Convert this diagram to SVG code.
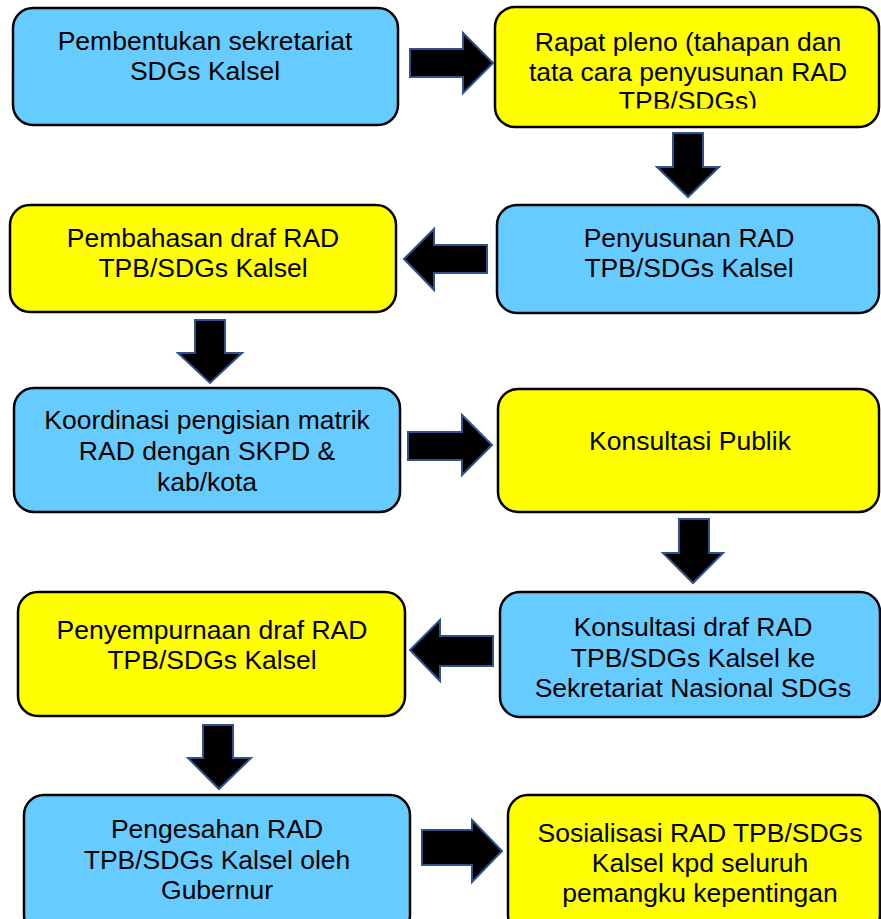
<svg xmlns="http://www.w3.org/2000/svg" width="881" height="919" viewBox="0 0 881 919">
<style>
.box{stroke:#000;stroke-width:2.5}
.blue{fill:#66CCFF}
.yellow{fill:#FFFF00}
text{font-family:"Liberation Sans",Arial,sans-serif;font-size:26.5px;fill:#000;text-anchor:middle}
.arr{fill:#000;stroke:#2F528F;stroke-width:2;stroke-linejoin:miter}
</style>
<defs>
<clipPath id="c2"><rect x="495" y="0" width="386" height="108.5"/></clipPath>
</defs>
<rect width="881" height="919" fill="#fff"/>
<g id="connectors">
<polygon class="arr" points="410,49 463,49 463,33 493,63 463,93 463,77 410,77"/>
<polygon class="arr" points="673,133 703,133 703,167 719,167 688,197 657,167 673,167"/>
<polygon class="arr" points="487,245 434,245 434,229 404,259 434,290 434,273 487,273"/>
<polygon class="arr" points="195,320 225,320 225,353 242,353 210,383 178,353 195,353"/>
<polygon class="arr" points="408,432 462,432 462,415 492,445 462,475 462,460 408,460"/>
<polygon class="arr" points="679,519 709,519 709,553 723,553 693,583 663,553 679,553"/>
<polygon class="arr" points="493,636 440,636 440,620 410,650 440,681 440,666 493,666"/>
<polygon class="arr" points="203,725 233,725 233,758 251,758 219,789 188,758 203,758"/>
<polygon class="arr" points="422,830 472,830 472,820 502,851 472,882 472,865 422,865"/>
</g>
<g id="n1">
<rect class="box blue" x="13" y="8" width="385" height="117" rx="20"/>
<text x="205" y="50">Pembentukan sekretariat</text>
<text x="205" y="80">SDGs Kalsel</text>
</g>
<g id="n2">
<rect class="box yellow" x="495" y="7" width="384" height="120" rx="20"/>
<g clip-path="url(#c2)">
<text x="688" y="51">Rapat pleno (tahapan dan</text>
<text x="688" y="81">tata cara penyusunan RAD</text>
<text x="688" y="110">TPB/SDGs)</text>
</g>
</g>
<g id="n3">
<rect class="box yellow" x="10" y="205" width="386" height="107" rx="20"/>
<text x="203" y="247">Pembahasan draf RAD</text>
<text x="203" y="277">TPB/SDGs Kalsel</text>
</g>
<g id="n4">
<rect class="box blue" x="497" y="205" width="382" height="108" rx="20"/>
<text x="689" y="247">Penyusunan RAD</text>
<text x="689" y="277">TPB/SDGs Kalsel</text>
</g>
<g id="n5">
<rect class="box blue" x="14" y="388" width="386" height="124" rx="20"/>
<text x="207" y="429">Koordinasi pengisian matrik</text>
<text x="207" y="460">RAD dengan SKPD &amp;</text>
<text x="207" y="491">kab/kota</text>
</g>
<g id="n6">
<rect class="box yellow" x="498" y="389" width="381" height="123" rx="20"/>
<text x="690" y="450">Konsultasi Publik</text>
</g>
<g id="n7">
<rect class="box yellow" x="18" y="592" width="387" height="124" rx="20"/>
<text x="212" y="639">Penyempurnaan draf RAD</text>
<text x="212" y="669">TPB/SDGs Kalsel</text>
</g>
<g id="n8">
<rect class="box blue" x="500" y="592" width="380" height="125" rx="20"/>
<text x="693" y="636">Konsultasi draf RAD</text>
<text x="693" y="667">TPB/SDGs Kalsel ke</text>
<text x="693" y="697">Sekretariat Nasional SDGs</text>
</g>
<g id="n9">
<rect class="box blue" x="24" y="795" width="386" height="140" rx="20"/>
<text x="217" y="838">Pengesahan RAD</text>
<text x="217" y="869">TPB/SDGs Kalsel oleh</text>
<text x="217" y="899">Gubernur</text>
</g>
<g id="n10">
<rect class="box yellow" x="508" y="795" width="372" height="140" rx="20"/>
<text x="700" y="842">Sosialisasi RAD TPB/SDGs</text>
<text x="700" y="872">Kalsel kpd seluruh</text>
<text x="700" y="902">pemangku kepentingan</text>
</g>
</svg>
